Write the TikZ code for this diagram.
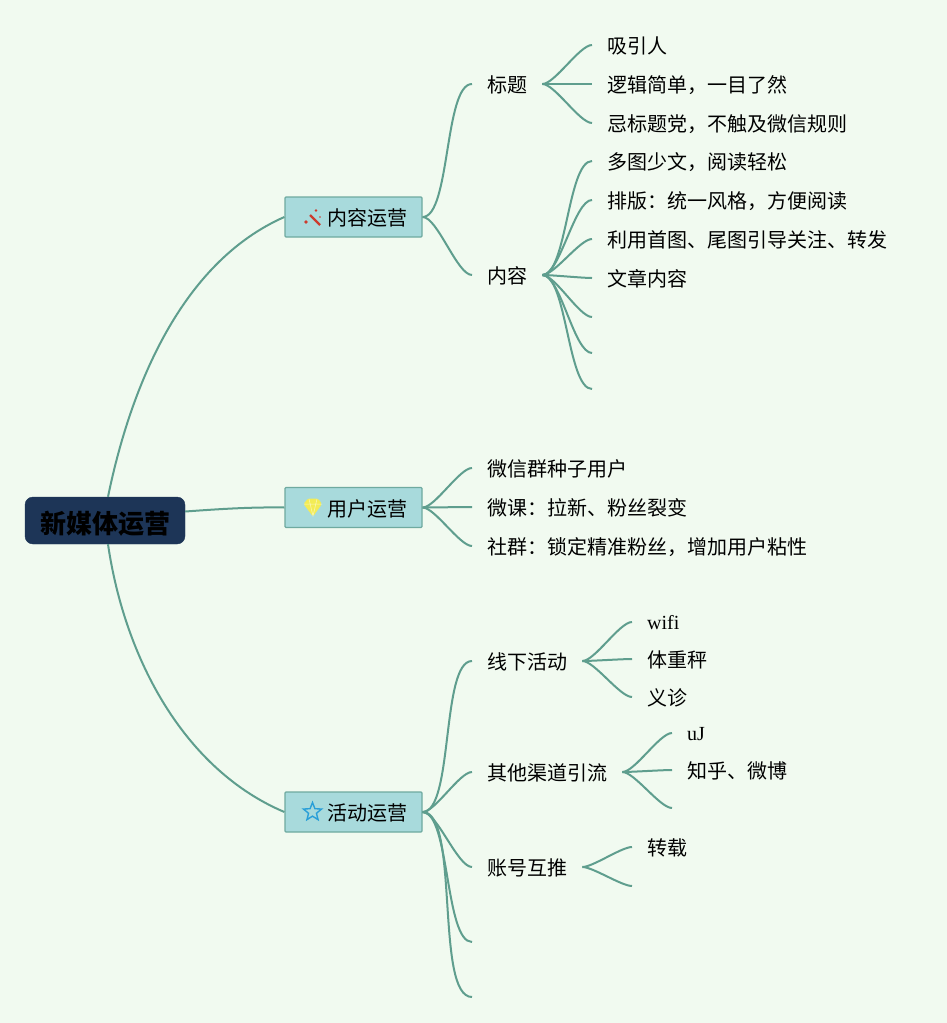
\documentclass[tikz,border=0pt]{standalone}
\usepackage{fontspec}
\setmainfont{Liberation Serif}
\newfontfamily\cjk{Noto Sans CJK SC}
\usetikzlibrary{shapes.geometric}
\definecolor{pagegreen}{HTML}{F1FAF0}
\definecolor{linkgreen}{HTML}{5F9E8E}
\definecolor{boxblue}{HTML}{A8DADC}
\definecolor{boxedge}{HTML}{6FAAA0}
\definecolor{rootblue}{HTML}{1D3557}
\definecolor{wandred}{HTML}{CC3B2E}
\definecolor{gemyellow}{HTML}{F3EC55}
\definecolor{starblue}{HTML}{2A9FD8}

\begin{document}
\begin{tikzpicture}[x=1pt,y=-1pt,
    rootbox/.style={fill=rootblue,draw=rootblue,rounded corners=8pt,minimum width=160pt,minimum height=47pt,inner sep=0pt,text height=26pt,text depth=0pt,font=\cjk\bfseries\fontsize{26}{26}\selectfont},
    mainbox/.style={fill=boxblue,draw=boxedge,line width=1.2pt,rounded corners=1pt,minimum width=137pt,minimum height=40pt,inner sep=0pt,text height=17.5pt,text depth=0pt,font=\cjk\fontsize{20}{20}\selectfont},
    leaf/.style={anchor=west,inner xsep=15pt,inner ysep=0pt,text height=17.5pt,text depth=0pt,font=\cjk\fontsize{20}{20}\selectfont},
    latin/.style={leaf,text height=16pt,text depth=1pt,font=\fontsize{20}{20}\selectfont},
    link/.style={draw=linkgreen,line width=2pt},
    sub/.style={link,out=0,in=180,looseness=0.5}]

    \fill[pagegreen] (0,0) rectangle (947,1023);

    \node[rootbox] (root) at (105,520.5) {新媒体运营};
    \node[mainbox] (content) at (353.5,217) {\hspace*{28pt}内容运营};
    \node[mainbox] (users) at (353.5,507.5) {\hspace*{28pt}用户运营};
    \node[mainbox] (events) at (353.5,812) {\hspace*{28pt}活动运营};

    % icons
    \draw[wandred,line width=2.2pt] (310,215) -- (320,225);
    \fill[wandred] (316,210.5) circle (1.3pt) (306,222) circle (1.9pt) (320,217) circle (0.9pt);
    \fill[gemyellow,rounded corners=1.5pt] (303.5,504) -- (308,498.5) -- (318,498.5) -- (322,504) -- (313,516.5) -- cycle;
    \draw[white!60!gemyellow,line width=0.5pt] (304,504) -- (322,504) (309,499) -- (313,516) -- (317,499);
    \node[star,star points=5,star point ratio=2.3,draw=starblue,line width=1.4pt,minimum size=19pt,inner sep=0pt] (staricon) at (312.5,812) {};

    % content
    \node[leaf] (title) at (472,84) {标题};
    \node[leaf] (body) at (472,275) {内容};
    \node[leaf] (t1) at (592,45) {吸引人};
    \node[leaf] (t2) at (592,84) {逻辑简单，一目了然};
    \node[leaf] (t3) at (592,123) {忌标题党，不触及微信规则};
    \node[leaf] (b1) at (592,161) {多图少文，阅读轻松};
    \node[leaf] (b2) at (592,200) {排版：统一风格，方便阅读};
    \node[leaf] (b3) at (592,239) {利用首图、尾图引导关注、转发};
    \node[leaf] (b4) at (592,278) {文章内容};
    \coordinate (b5) at (592,317);
    \coordinate (b6) at (592,353);
    \coordinate (b7) at (592,389);

    % users
    \node[leaf] (u1) at (472,468) {微信群种子用户};
    \node[leaf] (u2) at (472,507) {微课：拉新、粉丝裂变};
    \node[leaf] (u3) at (472,546) {社群：锁定精准粉丝，增加用户粘性};

    % events
    \node[leaf] (offline) at (472,661) {线下活动};
    \node[leaf] (other) at (472,772) {其他渠道引流};
    \node[leaf] (mutual) at (472,867) {账号互推};
    \coordinate (e4) at (472,942);
    \coordinate (e5) at (472,997);
    \node[latin] (o1) at (632,622) {wifi};
    \node[leaf] (o2) at (632,659) {体重秤};
    \node[leaf] (o3) at (632,697) {义诊};
    \node[latin] (r1) at (672,733) {uJ};
    \node[leaf] (r2) at (672,770) {知乎、微博};
    \coordinate (r3) at (672,808);
    \node[leaf] (m1) at (632,847) {转载};
    \coordinate (m2) at (632,886);

    \draw[link] ([xshift=3pt]root.north) .. controls (131,385) and (182,262) .. (content.west);
    \draw[link] ([yshift=9pt]root.east) .. controls (220,509) and (250,507) .. (users.west);
    \draw[link] ([xshift=3pt]root.south) .. controls (125,660) and (185,770) .. (events.west);

    \draw[sub] (content.east) to (title.west);
    \draw[sub] (content.east) to (body.west);
    \foreach \n in {t1,t2,t3} \draw[sub] (title.east) to (\n.west);
    \foreach \n in {b1,b2,b3,b4} \draw[sub] (body.east) to (\n.west);
    \foreach \n in {b5,b6,b7} \draw[sub] (body.east) to (\n);

    \foreach \n in {u1,u2,u3} \draw[sub] (users.east) to (\n.west);

    \foreach \n in {offline,other,mutual} \draw[sub] (events.east) to (\n.west);
    \foreach \n in {e4,e5} \draw[sub] (events.east) to (\n);
    \foreach \n in {o1,o2,o3} \draw[sub] (offline.east) to (\n.west);
    \draw[sub] (other.east) to (r1.west);
    \draw[sub] (other.east) to (r2.west);
    \draw[sub] (other.east) to (r3);
    \draw[sub] (mutual.east) to (m1.west);
    \draw[sub] (mutual.east) to (m2);
\end{tikzpicture}
\end{document}
